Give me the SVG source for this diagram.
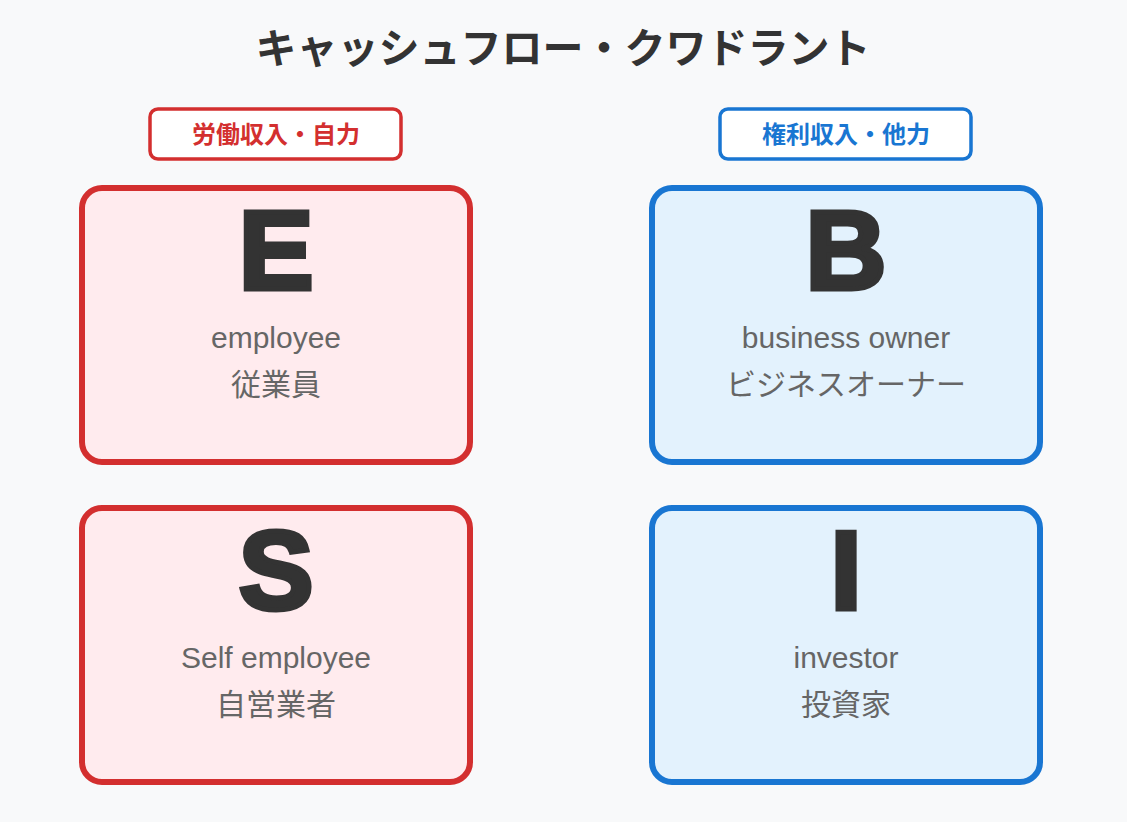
<svg xmlns="http://www.w3.org/2000/svg" width="1127" height="822" viewBox="0 0 1127 822">
<style>
.title{font-family:"Liberation Sans","Noto Sans CJK JP",sans-serif;font-size:41px;font-weight:bold;fill:#333;text-anchor:middle}
.lbl{font-family:"Liberation Sans","Noto Sans CJK JP",sans-serif;font-size:24px;font-weight:bold;text-anchor:middle}
.big{font-family:"Liberation Sans",sans-serif;font-size:112px;font-weight:900;fill:#333;stroke:#333;stroke-width:5;stroke-linejoin:miter;text-anchor:middle}
.sub{font-family:"Liberation Sans","Noto Sans CJK JP",sans-serif;font-size:30px;fill:#666;text-anchor:middle}
.red{fill:#FFEBEE;stroke:#D32F2F;stroke-width:6}
.blue{fill:#E3F2FD;stroke:#1976D2;stroke-width:6}
.rlab{fill:#fff;stroke:#D32F2F;stroke-width:3.5}
.blab{fill:#fff;stroke:#1976D2;stroke-width:3.5}
</style>
<rect width="1127" height="822" fill="#F8F9FA"/>
<text class="title" x="563" y="63">キャッシュフロー・クワドラント</text>
<g id="label-left">
<rect class="rlab" x="150" y="109" width="251" height="50" rx="8"/>
<text class="lbl" x="276" y="143" fill="#D32F2F">労働収入・自力</text>
</g>
<g id="label-right">
<rect class="blab" x="720" y="109" width="251" height="50" rx="8"/>
<text class="lbl" x="846" y="143" fill="#1976D2">権利収入・他力</text>
</g>
<g id="node-E">
<rect class="red" x="82" y="188" width="388" height="274" rx="20"/>
<text class="big" x="276" y="289">E</text>
<text class="sub" x="276" y="348">employee</text>
<text class="sub" x="276" y="395">従業員</text>
</g>
<g id="node-B">
<rect class="blue" x="652" y="188" width="388" height="274" rx="20"/>
<text class="big" x="846" y="289">B</text>
<text class="sub" x="846" y="348">business owner</text>
<text class="sub" x="846" y="395">ビジネスオーナー</text>
</g>
<g id="node-S">
<rect class="red" x="82" y="508" width="388" height="274" rx="20"/>
<text class="big" x="276" y="609">S</text>
<text class="sub" x="276" y="668">Self employee</text>
<text class="sub" x="276" y="715">自営業者</text>
</g>
<g id="node-I">
<rect class="blue" x="652" y="508" width="388" height="274" rx="20"/>
<text class="big" x="846" y="609">I</text>
<text class="sub" x="846" y="668">investor</text>
<text class="sub" x="846" y="715">投資家</text>
</g>
<g id="connectors"/>
</svg>
